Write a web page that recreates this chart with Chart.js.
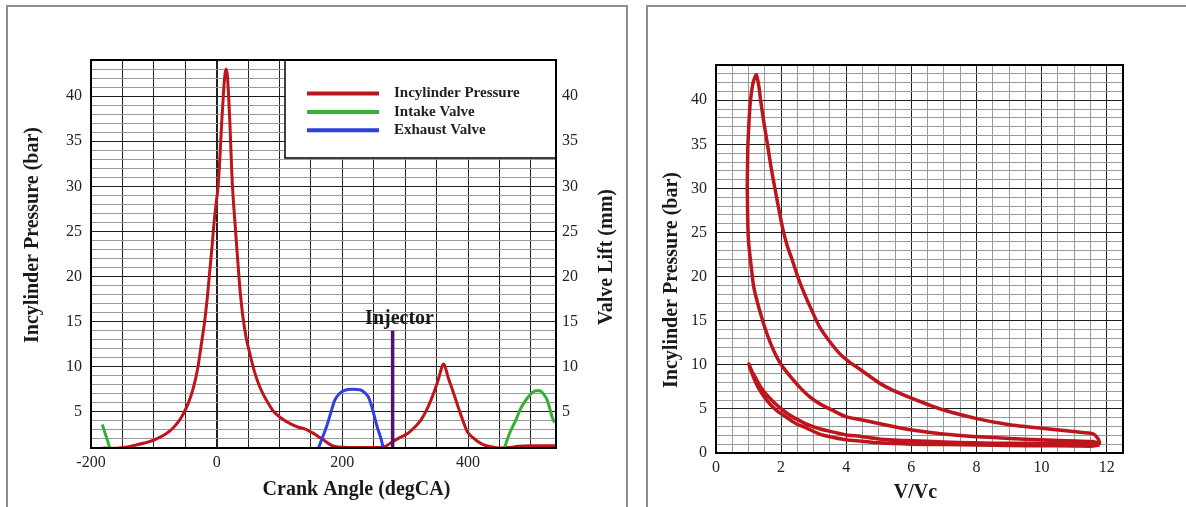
<!DOCTYPE html>
<html>
<head>
<meta charset="utf-8">
<title>Incylinder pressure and P-V diagram</title>
<script src="https://cdn.jsdelivr.net/npm/chart.js@4.4.1/dist/chart.umd.min.js"></script>
<style>
  body { margin: 0; background: #fff; width: 1186px; height: 507px; overflow: hidden; position: relative; }
  .frame { position: absolute; top: 5px; height: 510px; border: 2px solid #8c8c8c; border-bottom: none; box-sizing: border-box; }
  .holder { position: absolute; top: 6px; height: 501px; }
</style>
</head>
<body>
<div class="frame" style="left:6px; width:622px;"></div>
<div class="frame" style="left:646px; width:560px; border-right:none;"></div>
<div class="holder" style="left:8px; width:619px;"><canvas id="crank"></canvas></div>
<div class="holder" style="left:648px; width:538px;"><canvas id="pv"></canvas></div>
<script>
// crank angle (degCA) vs incylinder pressure (bar)
var crankAngle = [-185, -170, -156, -140, -130, -115, -103, -90, -80, -71,
  -60, -53, -45, -37, -30, -24, -19, -15, -11, -7,
  -4, 0, 2, 5, 8, 11, 13, 15, 17, 19,
  21, 24, 26, 29, 32, 35, 38, 42, 47, 53,
  60, 69, 80, 90, 103, 117, 130, 141, 152, 162,
  172, 183, 194, 210, 230, 250, 267, 280, 290, 304,
  315, 325, 334, 341, 348, 354, 358, 361, 364, 368,
  376, 384, 391, 399, 407, 415, 425, 436, 452, 465,
  480, 500, 520, 540];
var cylPressure = [0.95, 0.95, 1.0, 1.15, 1.3, 1.55, 1.8, 2.2, 2.6, 3.1,
  4.0, 4.8, 6.0, 7.7, 9.9, 12.7, 15.1, 17.6, 20.6, 23.6,
  26.1, 28.6, 29.8, 33.0, 37.1, 40.5, 42.3, 43.0, 42.3, 40.0,
  37.1, 31.6, 29.0, 26.1, 23.2, 20.4, 17.9, 15.4, 13.2, 11.4,
  9.5, 7.7, 6.2, 5.1, 4.3, 3.7, 3.3, 3.1, 2.7, 2.25,
  1.8, 1.3, 1.1, 1.05, 1.05, 1.05, 1.15, 1.7, 2.1, 2.6,
  3.3, 4.1, 5.2, 6.3, 7.6, 8.9, 9.9, 10.3, 9.9, 8.9,
  7.3, 5.6, 4.2, 2.8, 2.2, 1.75, 1.35, 1.15, 1.0, 1.05,
  1.2, 1.25, 1.25, 1.25];

// valve lift (mm); null breaks the intake line between cycles
var intakeAngle = [-182, -176, -170, 140, 458, 466, 476, 484, 492, 500, 508, 514, 520, 526, 530, 534, 538];
var intakeLift = [3.6, 2.3, 1.0, null, 1.0, 2.6, 4.1, 5.4, 6.3, 7.0, 7.35, 7.35, 7.0, 6.3, 5.4, 4.4, 3.8];
var exhaustAngle = [162, 168, 175, 182, 188, 195, 204, 216, 228, 236, 241, 246, 251, 256, 262, 265];
var exhaustLift = [1.0, 2.1, 3.4, 5.0, 6.3, 7.0, 7.4, 7.5, 7.45, 7.1, 6.7, 5.8, 4.5, 3.2, 1.9, 1.0];

var injectorAngle = 280;
var injectorTop = 14;

// P-V loop in cycle order: compression, expansion, exhaust + recompression, re-expansion + intake
var pvRatio = [11.78, 11.57, 11.06, 9.99, 9.02, 8.01, 6.97, 6.02, 5.44, 4.42,
  4.0, 3.6, 3.18, 2.9, 2.56, 2.3, 2.04, 1.85, 1.68, 1.52,
  1.37, 1.25, 1.16, 1.06, 1.0, 0.98, 0.96, 0.97, 0.98, 1.02,
  1.06, 1.14, 1.24,
  1.32, 1.37, 1.47, 1.58, 1.7, 1.84, 2.04, 2.18, 2.35, 2.52,
  2.71, 2.95, 3.18, 3.48, 3.79, 4.1, 4.42, 5.03, 5.44, 6.02,
  6.97, 8.01, 9.02, 9.99, 11.06, 11.57, 11.72, 11.78,
  11.57, 10.5, 9.5, 8.5, 7.9, 7.0, 6.0, 5.0, 4.42, 4.0,
  3.5, 3.18, 2.8, 2.45, 2.2, 1.94, 1.75, 1.53, 1.35, 1.22,
  1.1, 1.01,
  1.05, 1.15, 1.3, 1.53, 1.75, 1.94, 2.2, 2.45, 2.8, 3.18,
  3.5, 4.0, 4.42, 5.0, 6.0, 7.0, 8.0, 9.0, 10.0, 11.0,
  11.57, 11.78];
var pvPressure = [1.1, 1.3, 1.35, 1.5, 1.65, 1.85, 2.15, 2.6, 3.0, 3.8,
  4.1, 4.8, 5.6, 6.3, 7.5, 8.6, 9.8, 11.0, 12.4, 14.0,
  15.8, 17.4, 18.8, 21.8, 24.0, 25.6, 30.0, 33.0, 35.0, 38.0,
  40.0, 42.0, 42.9,
  41.5, 40.0, 37.5, 35.0, 32.2, 29.4, 25.6, 23.6, 21.8, 19.9,
  18.1, 16.1, 14.3, 12.7, 11.3, 10.3, 9.5, 7.9, 7.1, 6.2,
  4.9, 3.9, 3.2, 2.8, 2.4, 2.2, 1.7, 1.1,
  1.05, 1.05, 1.1, 1.1, 1.15, 1.25, 1.4, 1.6, 1.9, 2.05,
  2.45, 2.75, 3.25, 3.9, 4.45, 5.2, 5.85, 6.7, 7.6, 8.5,
  9.3, 10.1,
  9.6, 8.6, 7.4, 6.1, 5.2, 4.6, 3.95, 3.35, 2.8, 2.15,
  1.85, 1.5, 1.35, 1.15, 1.0, 0.95, 0.9, 0.85, 0.82, 0.8,
  0.78, 0.9];

var serif = '"Liberation Serif", "Times New Roman", serif';
var tickFont = { family: serif, size: 16 };
var tickColor = '#222';
var red = '#be151d', green = '#35b035', blue = '#2f3fe0', purple = '#4b1468';

function pts(xs, ys) {
  return xs.map(function (x, i) { return { x: x, y: ys[i] }; });
}

function majorMinor(step) {
  return function (c) {
    return c.tick && c.tick.value % step === 0 ? '#1e1e1e' : '#999';
  };
}

// legend box, chart frame and the free text (axis titles, injector label)
var decor = {
  id: 'decor',
  afterDatasetsDraw: function (chart, args, opts) {
    var ctx = chart.ctx, a = chart.chartArea;
    ctx.save();
    if (opts.legend) {
      var w = 271, h = 98, left = a.right - w, top = a.top;
      ctx.fillStyle = '#fff';
      ctx.fillRect(left, top, w, h);
      ctx.strokeStyle = '#000';
      ctx.lineWidth = 1.5;
      ctx.strokeRect(left, top, w, h);
      ctx.font = 'bold 15px ' + serif;
      ctx.textBaseline = 'middle';
      ctx.textAlign = 'left';
      chart.data.datasets.filter(function (d) { return !d.noLegend; }).forEach(function (d, i) {
        var y = top + 33.5 + i * 18.4;
        ctx.strokeStyle = d.borderColor;
        ctx.lineWidth = 4;
        ctx.beginPath();
        ctx.moveTo(left + 22, y);
        ctx.lineTo(left + 94, y);
        ctx.stroke();
        ctx.fillStyle = '#222';
        ctx.fillText(d.label, left + 109, y);
      });
    }
    ctx.strokeStyle = '#000';
    ctx.lineWidth = 2;
    ctx.strokeRect(a.left, a.top, a.right - a.left, a.bottom - a.top);
    (opts.texts || []).forEach(function (t) {
      var p = t.at(chart);
      ctx.save();
      ctx.translate(p.x, p.y);
      ctx.rotate(t.rot || 0);
      ctx.font = 'bold 20px ' + serif;
      ctx.fillStyle = '#1a1a1a';
      ctx.textAlign = 'center';
      ctx.textBaseline = 'middle';
      ctx.fillText(t.text, 0, 0);
      ctx.restore();
    });
    ctx.restore();
  }
};

new Chart(document.getElementById('crank'), {
  type: 'line',
  data: {
    datasets: [
      { label: 'Incylinder Pressure', data: pts(crankAngle, cylPressure), borderColor: red, borderWidth: 3, order: 3, cubicInterpolationMode: 'monotone' },
      { label: 'Intake Valve', data: pts(intakeAngle, intakeLift), yAxisID: 'y2', borderColor: green, borderWidth: 3, order: 2, cubicInterpolationMode: 'monotone' },
      { label: 'Exhaust Valve', data: pts(exhaustAngle, exhaustLift), yAxisID: 'y2', borderColor: blue, borderWidth: 3, order: 2, cubicInterpolationMode: 'monotone' },
      { label: 'Injector', noLegend: true, data: [{ x: injectorAngle, y: 1 }, { x: injectorAngle, y: injectorTop }], borderColor: purple, borderWidth: 3.5, order: 1, tension: 0 }
    ]
  },
  options: {
    responsive: true,
    maintainAspectRatio: false,
    animation: false,
    layout: { padding: { top: 54 } },
    elements: { point: { radius: 0 }, line: { fill: false } },
    plugins: {
      legend: { display: false },
      tooltip: { enabled: false },
      decor: {
        legend: true,
        texts: [
          { text: 'Incylinder Pressure (bar)', rot: -Math.PI / 2, at: function (c) { var a = c.chartArea; return { x: a.left - 58, y: (a.top + a.bottom) / 2 - 19 }; } },
          { text: 'Valve Lift (mm)', rot: -Math.PI / 2, at: function (c) { var a = c.chartArea; return { x: a.right + 51, y: (a.top + a.bottom) / 2 + 3 }; } },
          { text: 'Crank Angle (degCA)', at: function (c) { var a = c.chartArea; return { x: (a.left + a.right) / 2 + 33, y: a.bottom + 42 }; } },
          { text: 'Injector', at: function (c) { return { x: c.scales.x.getPixelForValue(injectorAngle + 11), y: c.scales.y.getPixelForValue(injectorTop + 1.3) }; } }
        ]
      }
    },
    scales: {
      x: {
        type: 'linear', min: -200, max: 540,
        afterFit: function (s) { s.height = 59; },
        ticks: { stepSize: 50, includeBounds: false, autoSkip: false, maxRotation: 0, padding: 5, color: tickColor, font: tickFont,
          callback: function (v) { return v % 200 === 0 ? String(v) : ''; } },
        grid: { color: '#222', lineWidth: function (c) { return c.tick && c.tick.value === 0 ? 2 : 1; }, drawTicks: false },
        border: { display: false }
      },
      y: {
        min: 1, max: 44,
        afterFit: function (s) { s.width = 83; },
        ticks: { stepSize: 1, autoSkip: false, padding: 9, color: tickColor, font: tickFont,
          callback: function (v) { return v % 5 === 0 ? String(v) : ''; } },
        grid: { color: majorMinor(5), drawTicks: false },
        border: { display: false }
      },
      y2: {
        position: 'right', min: 1, max: 44,
        afterFit: function (s) { s.width = 71; },
        ticks: { stepSize: 1, autoSkip: false, padding: 6, color: tickColor, font: tickFont,
          callback: function (v) { return v % 5 === 0 ? String(v) : ''; } },
        grid: { drawOnChartArea: false, drawTicks: false },
        border: { display: false }
      }
    }
  },
  plugins: [decor]
});

new Chart(document.getElementById('pv'), {
  type: 'scatter',
  data: {
    datasets: [
      { label: 'P-V', data: pts(pvRatio, pvPressure), showLine: true, borderColor: red, borderWidth: 3.5, tension: 0.2 }
    ]
  },
  options: {
    responsive: true,
    maintainAspectRatio: false,
    animation: false,
    layout: { padding: { top: 59, right: 63 } },
    elements: { point: { radius: 0 } },
    plugins: {
      legend: { display: false },
      tooltip: { enabled: false },
      decor: {
        texts: [
          { text: 'Incylinder Pressure (bar)', rot: -Math.PI / 2, at: function (c) { var a = c.chartArea; return { x: a.left - 44, y: (a.top + a.bottom) / 2 + 21 }; } },
          { text: 'V/Vc', at: function (c) { var a = c.chartArea; return { x: (a.left + a.right) / 2 - 4, y: a.bottom + 40 }; } }
        ]
      }
    },
    scales: {
      x: {
        type: 'linear', min: 0, max: 12.5,
        afterFit: function (s) { s.height = 54; },
        ticks: { stepSize: 0.5, includeBounds: false, autoSkip: false, maxRotation: 0, padding: 5, color: tickColor, font: tickFont,
          callback: function (v) { return v % 2 === 0 ? String(v) : ''; } },
        grid: { color: majorMinor(2), drawTicks: false },
        border: { display: false }
      },
      y: {
        min: 0, max: 44,
        afterFit: function (s) { s.width = 68; },
        ticks: { stepSize: 1, autoSkip: false, padding: 9, color: tickColor, font: tickFont,
          callback: function (v) { return v % 5 === 0 ? String(v) : ''; } },
        grid: { color: majorMinor(5), drawTicks: false },
        border: { display: false }
      }
    }
  },
  plugins: [decor]
});
</script>
</body>
</html>
